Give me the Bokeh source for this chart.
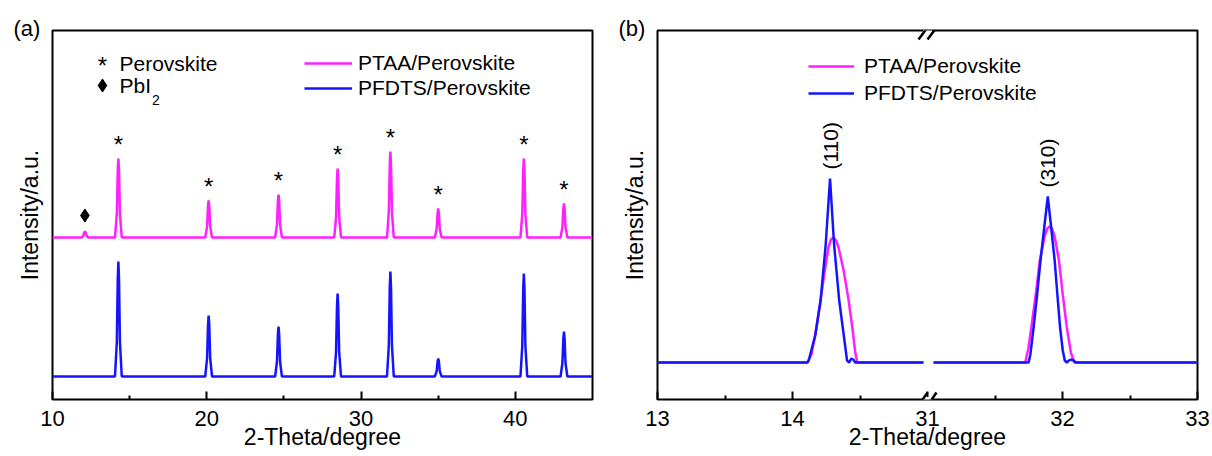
import math
from bokeh.plotting import figure
from bokeh.layouts import row
from bokeh.models import (Range1d, FixedTicker, Label, Legend, LegendItem, Arrow, Title)
from bokeh.core.properties import value
from bokeh.embed import file_html
from bokeh.resources import INLINE

FONT = "Liberation Sans"
MAGENTA = "#ff1fff"
BLUE = "#1414ff"

# ---------------- data, panel (a) ----------------
a_series = ["PTAA/Perovskite", "PFDTS/Perovskite"]
a_peak_2theta = [12.1, 14.27, 20.12, 24.65, 28.48, 31.9, 35.0, 40.55, 43.15]
a_peak_phase = ["PbI2", "Perovskite", "Perovskite", "Perovskite", "Perovskite",
                "Perovskite", "Perovskite", "Perovskite", "Perovskite"]
a_ptaa_intensity = [6, 79, 37, 43, 69, 86, 29, 79, 34]
a_pfdts_intensity = [0, 115, 61, 50, 83, 105, 18, 103, 45]
a_ptaa_offset = 162
a_pfdts_offset = 23
a_xticks = [10, 20, 30, 40]
a_xminor = [15, 25, 35]
a_xlim = (10, 45)

# ---------------- data, panel (b) ----------------
b_ptaa_x_left = [13.0, 14.11, 14.14, 14.165, 14.203, 14.235, 14.266, 14.285, 14.304,
                 14.323, 14.341, 14.379, 14.416, 14.446, 14.465, 14.48, 14.97]
b_ptaa_y_left = [0, 0, 8, 25, 58, 88, 115, 123, 125, 122, 115, 92, 62, 32, 10, 0, 0]
b_pfdts_x_left = [13.0, 14.11, 14.12, 14.17, 14.208, 14.246, 14.278, 14.308, 14.346,
                  14.379, 14.404, 14.42, 14.435, 14.45, 14.465, 14.97]
b_pfdts_y_left = [0, 0, 2, 28, 62, 118, 184, 118, 62, 28, 2, 0, 4, 3, 0, 0]
b_ptaa_x_right = [31.045, 31.724, 31.747, 31.769, 31.802, 31.832, 31.867, 31.887, 31.904,
                  31.922, 31.942, 31.974, 32.002, 32.032, 32.062, 32.087, 33.0]
b_ptaa_y_right = [0, 0, 14, 35, 68, 102, 126, 134, 136, 134, 126, 102, 68, 35, 10, 0, 0]
b_pfdts_x_right = [31.045, 31.749, 31.762, 31.786, 31.812, 31.837, 31.864, 31.891, 31.917,
                   31.942, 31.962, 31.982, 32.002, 32.017, 32.032, 32.047, 32.062, 32.082,
                   32.1, 33.0]
b_pfdts_y_right = [0, 0, 8, 35, 68, 102, 134, 166, 134, 102, 68, 35, 12, 2, 0, 2, 3, 2, 0, 0]
b_offset = 37
b_hkl = ["(110)", "(310)"]
b_tick_values = [13, 14, 31, 32, 33]
b_tick_labels = ["13", "14", "31", "32", "33"]
b_minor_values = [13.5, 14.5, 31.5, 32.5]
b_break_low, b_break_high = 15, 31
b_xlim = (13, 33)

Y_TOP = 369


def bmap(x):
    # collapse the broken x axis of panel (b)
    return x if x <= b_break_low else x - (b_break_high - b_break_low)


def spectrum(centers, heights, offset, lo, hi, hw=0.22):
    xs, ys = [lo], [offset]
    for c, h in zip(centers, heights):
        if h <= 0:
            continue
        for dx, f in ((-hw, 0), (-0.1, 0.3), (-0.04, 0.85), (0, 1), (0.04, 0.85), (0.1, 0.3), (hw, 0)):
            xs.append(c + dx)
            ys.append(offset + f * h)
    xs.append(hi)
    ys.append(offset)
    return xs, ys


def base_fig(xr, left, right, tag):
    p = figure(width=606, height=456, x_range=xr, y_range=Range1d(0, Y_TOP),
               output_backend="svg", toolbar_location=None,
               min_border_left=left, min_border_right=right,
               min_border_top=30, min_border_bottom=57)
    p.title = Title(text=tag, align="left", offset=-39, standoff=-20,
                    text_font=FONT, text_font_size="22px", text_font_style="normal",
                    text_color="black")
    p.xgrid.visible = False
    p.ygrid.visible = False
    p.outline_line_color = "black"
    p.outline_line_width = 2
    p.outline_line_alpha = 1
    p.background_fill_color = "white"
    p.border_fill_color = "white"
    ax = p.xaxis[0]
    ax.axis_line_color = None
    ax.major_tick_in = 8
    ax.major_tick_out = 0
    ax.minor_tick_in = 4
    ax.minor_tick_out = 0
    ax.major_tick_line_width = 2
    ax.minor_tick_line_width = 2
    ax.major_tick_line_color = "black"
    ax.minor_tick_line_color = "black"
    ax.major_label_text_font = FONT
    ax.major_label_text_font_size = "22px"
    ax.major_label_text_color = "black"
    ax.major_label_standoff = 11
    ax.axis_label = "2-Theta/degree"
    ax.axis_label_text_font = FONT
    ax.axis_label_text_font_size = "23px"
    ax.axis_label_text_font_style = "normal"
    ax.axis_label_text_color = "black"
    ax.axis_label_standoff = -5
    ay = p.yaxis[0]
    ay.ticker = FixedTicker(ticks=[])
    ay.axis_line_color = None
    ay.major_tick_line_color = None
    ay.minor_tick_line_color = None
    ay.major_tick_out = 0
    ay.major_tick_in = 0
    ay.minor_tick_out = 0
    ay.major_label_standoff = 0
    ay.axis_label = "Intensity/a.u."
    ay.axis_label_text_font = FONT
    ay.axis_label_text_font_size = "23px"
    ay.axis_label_text_font_style = "normal"
    ay.axis_label_text_color = "black"
    ay.axis_label_standoff = 10
    return p


def add_label(p, x, y, text, size, angle=0.0, align="center", baseline="middle"):
    p.add_layout(Label(x=x, y=y, text=text, angle=angle, text_align=align,
                       text_baseline=baseline, text_font=FONT,
                       text_font_size=size, text_color="black"))


# ---------------- panel (a) ----------------
pa = base_fig(Range1d(*a_xlim), 52, 14, "(a)")
pa.xaxis[0].ticker = FixedTicker(ticks=a_xticks, minor_ticks=a_xminor)

xs, ys = spectrum(a_peak_2theta, a_ptaa_intensity, a_ptaa_offset, *a_xlim)
r_ptaa = pa.line(xs, ys, line_color=MAGENTA, line_width=2.5)
xs, ys = spectrum(a_peak_2theta, a_pfdts_intensity, a_pfdts_offset, *a_xlim)
r_pfdts = pa.line(xs, ys, line_color=BLUE, line_width=2.5)

mark_gap = 16
star_x = [c for c, ph in zip(a_peak_2theta, a_peak_phase) if ph == "Perovskite"]
star_y = [a_ptaa_offset + h + mark_gap - 2 for h, ph in zip(a_ptaa_intensity, a_peak_phase) if ph == "Perovskite"]
pa.text(x=star_x, y=star_y, text=["*"] * len(star_x), text_font=value(FONT),
        text_font_size="24px", text_align="center", text_baseline="alphabetic",
        text_color="black")
dia_x = [c for c, ph in zip(a_peak_2theta, a_peak_phase) if ph == "PbI2"]
dia_y = [a_ptaa_offset + h + mark_gap for h, ph in zip(a_ptaa_intensity, a_peak_phase) if ph == "PbI2"]
pa.scatter(dia_x, dia_y, marker="diamond", size=13, fill_color="black",
           line_color="black", line_width=1)

# phase key
pa.add_layout(Label(x=13.24, y=334, text="*", text_align="center", text_baseline="alphabetic",
                    text_font=FONT, text_font_size="24px", text_color="black"))
add_label(pa, 14.34, 336, "Perovskite", "21px", align="left")
pa.scatter([13.24], [314], marker="diamond", size=13, fill_color="black",
           line_color="black", line_width=1)
add_label(pa, 14.34, 314, "PbI", "21px", align="left")
add_label(pa, 16.45, 300, "2", "14px", align="left")

leg_a = Legend(items=[LegendItem(label=a_series[0], renderers=[r_ptaa]),
                      LegendItem(label=a_series[1], renderers=[r_pfdts])],
               location=(252, 299), glyph_width=48, glyph_height=20, label_standoff=6,
               spacing=1, padding=0, margin=0, border_line_color=None,
               background_fill_alpha=0, label_text_font=FONT,
               label_text_font_size="21px", label_text_color="black")
pa.add_layout(leg_a)

# ---------------- panel (b) ----------------
pb = base_fig(Range1d(bmap(b_xlim[0]), bmap(b_xlim[1])), 51, 15, "(b)")
pb.xaxis[0].ticker = FixedTicker(ticks=[bmap(v) for v in b_tick_values],
                                 minor_ticks=[bmap(v) for v in b_minor_values])
pb.xaxis[0].major_label_overrides = {bmap(v): s for v, s in zip(b_tick_values, b_tick_labels)}

rb_ptaa = pb.line([bmap(v) for v in b_ptaa_x_left], [b_offset + v for v in b_ptaa_y_left],
                  line_color=MAGENTA, line_width=2.5)
pb.line([bmap(v) for v in b_ptaa_x_right], [b_offset + v for v in b_ptaa_y_right],
        line_color=MAGENTA, line_width=2.5)
rb_pfdts = pb.line([bmap(v) for v in b_pfdts_x_left], [b_offset + v for v in b_pfdts_y_left],
                   line_color=BLUE, line_width=2.5)
pb.line([bmap(v) for v in b_pfdts_x_right], [b_offset + v for v in b_pfdts_y_right],
        line_color=BLUE, line_width=2.5)

# hkl labels above the PFDTS peaks
for xs_, ys_, lab in ((b_pfdts_x_left, b_pfdts_y_left, b_hkl[0]),
                      (b_pfdts_x_right, b_pfdts_y_right, b_hkl[1])):
    i = ys_.index(max(ys_))
    add_label(pb, bmap(xs_[i]), b_offset + ys_[i] + 9, lab, "21px",
              angle=math.pi / 2, align="left")

leg_b = Legend(items=[LegendItem(label=a_series[0], renderers=[rb_ptaa]),
                      LegendItem(label=a_series[1], renderers=[rb_pfdts])],
               location=(151, 294), glyph_width=46, glyph_height=20, label_standoff=10,
               spacing=3, padding=0, margin=0, border_line_color=None,
               background_fill_alpha=0, label_text_font=FONT,
               label_text_font_size="21px", label_text_color="black")
pb.add_layout(leg_b)

# axis break marks
bx = bmap(b_break_low)
ux = 1.0 / 135.0  # one pixel in x units
for yb, lo, hi in ((0, -6, 7), (Y_TOP, -9, 3)):
    pb.add_layout(Arrow(end=None, x_start=bx - 4.5 * ux, y_start=yb, x_end=bx + 4.5 * ux,
                        y_end=yb, line_color="white", line_width=5))
    for dx in (-4.5, 4.5):
        pb.add_layout(Arrow(end=None, x_start=bx + (dx - 4.5) * ux, y_start=yb + lo,
                            x_end=bx + (dx + 4.5) * ux, y_end=yb + hi,
                            line_color="black", line_width=2.5))

layout = row(pa, pb)
open("out.html", "w").write(file_html(layout, INLINE))
